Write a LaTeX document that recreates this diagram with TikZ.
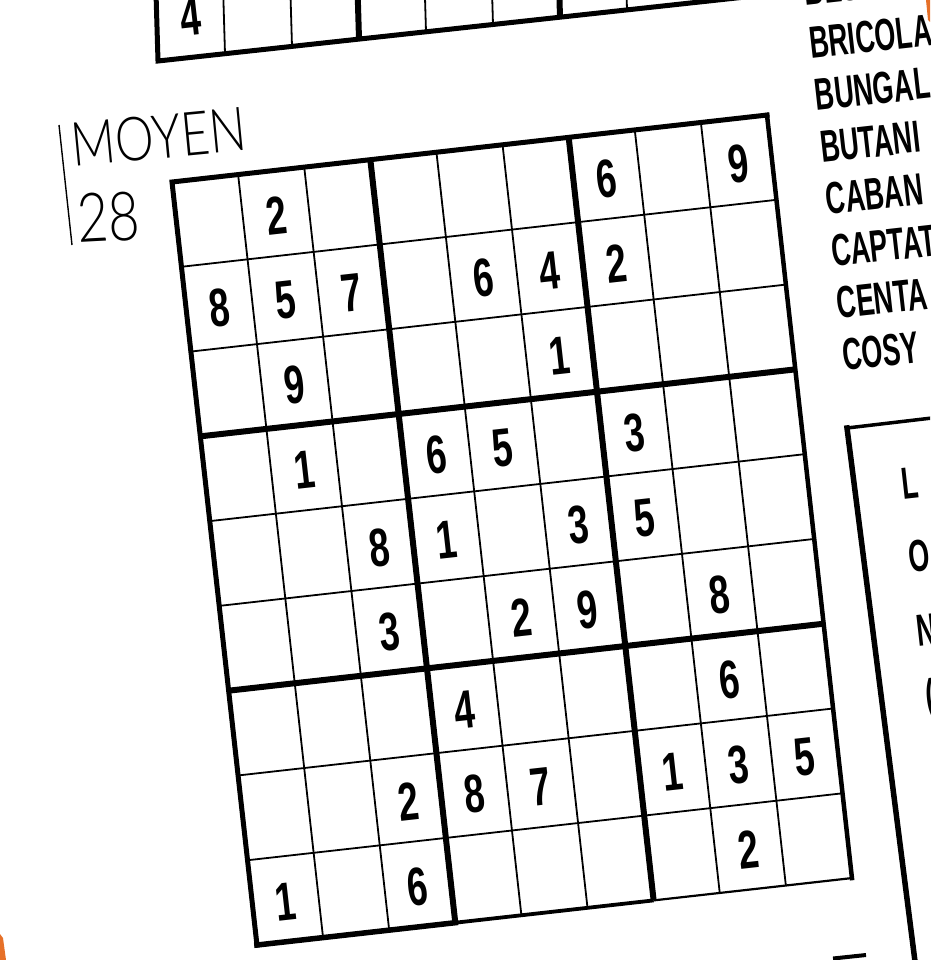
\documentclass[tikz,border=0pt]{standalone}
\usepackage{fontspec}
\usepackage{graphicx}
\setmainfont{Liberation Sans}
\newfontfamily\condfont{Liberation Sans}
\IfFontExistsTF{Lato Light}{\newfontfamily\thinfont{Lato Light}}{%
 \IfFontExistsTF{Lato Thin}{\newfontfamily\thinfont{Lato Thin}}{%
  \IfFontExistsTF{Lato Hairline}{\newfontfamily\thinfont{Lato Hairline}}{\newfontfamily\thinfont{DejaVu Sans}}}}
\newcommand{\dgt}[1]{\scalebox{0.68}[1]{#1}}
\newcommand{\wrd}[1]{\scalebox{0.6}[1]{#1}}
\newcommand{\thn}[1]{\scalebox{0.8}[1]{#1}}
\definecolor{paperorange}{RGB}{230,112,40}
\tikzset{
  thinline/.style={line width=1.8pt},
  blockline/.style={line width=6pt},
  border/.style={line width=5pt, line cap=rect},
  digit/.style={rotate=6.4, inner sep=0pt, font=\condfont\bfseries\fontsize{54}{54}\selectfont},
  word/.style={anchor=base west, rotate=6.4, inner sep=0pt, font=\condfont\bfseries\fontsize{45}{45}\selectfont},
  thintext/.style={anchor=base west, inner sep=0pt},
}
\begin{document}
\begin{tikzpicture}[x=1pt,y=-1pt]
\useasboundingbox (0,0) rectangle (930,960);
\clip (0,0) rectangle (930,960);
\fill[white] (0,0) rectangle (930,960);

% previous (partial) grid at the top
\begin{scope}[shift={(158,61)}, x={(67pt,7.3pt)}, y={(2.5pt,-85pt)}]
  \foreach \u in {1,2,4,5,7,8} \draw[thinline] (\u,-1.2) -- (\u,0);
  \foreach \u in {3,6} \draw[blockline] (\u,-1.2) -- (\u,0);
  \draw[border] (0,-1.2) -- (0,0) -- (9,0) -- (9,-1.2);
  \node[digit] (t4) at (0.5,-0.47) {\dgt{4}};
\end{scope}

% main grid
\begin{scope}[shift={(172,182)}, x={(66.11pt,7.44pt)}, y={(9.44pt,-84.78pt)}]
  \foreach \u in {1,2,4,5,7,8} {
    \draw[thinline] (\u,0) -- (\u,9);
    \draw[thinline] (0,\u) -- (9,\u);
  }
  \foreach \u in {3,6} {
    \draw[blockline] (\u,0) -- (\u,9);
    \draw[blockline] (0,\u) -- (9,\u);
  }
  \draw[border] (0,9) -- (0,0) -- (9,0);
  \draw[border, line width=4.5pt] (9,0) -- (9,9);
  \draw[border, line width=5.5pt] (0,9) -- (3,9);
  \draw[line width=3.8pt] (3,9) -- (6,9);
  \draw[line width=2.2pt] (6,9) -- (9,9);
  \foreach \r/\c/\d in {1/2/2,1/7/6,1/9/9,
      2/1/8,2/2/5,2/3/7,2/5/6,2/6/4,2/7/2,
      3/2/9,3/6/1,
      4/2/1,4/4/6,4/5/5,4/7/3,
      5/3/8,5/4/1,5/6/3,5/7/5,
      6/3/3,6/5/2,6/6/9,6/8/8,
      7/4/4,7/8/6,
      8/3/2,8/4/8,8/5/7,8/7/1,8/8/3,8/9/5,
      9/1/1,9/3/6,9/8/2}
    \node[digit] (d\r\c) at (\c-0.5,\r-0.47) {\dgt{\d}};
\end{scope}

% level label
\draw[line width=1.4pt] (59,125) -- (72,245);
\node[thintext, rotate=5.5, font=\thinfont\fontsize{61}{61}\selectfont] (moyen) at (73,167) {\thn{MOYEN}};
\node[thintext, rotate=3, font=\thinfont\fontsize{68}{68}\selectfont] (num) at (78,243) {\thn{28}};

% word list
\node[word] (w0) at (805.5,6) {\wrd{BEST}};
\node[word] (w1) at (811,59) {\wrd{BRICOLA}};
\node[word] (w2) at (816.5,111) {\wrd{BUNGAL}};
\node[word] (w3) at (822,163) {\wrd{BUTANI}};
\node[word] (w4) at (827.5,215) {\wrd{CABAN}};
\node[word] (w5) at (833,267) {\wrd{CAPTAT}};
\node[word] (w6) at (838.5,319) {\wrd{CENTA}};
\node[word] (w7) at (844,371) {\wrd{COSY}};

% right box
\draw[line width=3.5pt] (932,418) -- (847,428);
\draw[line width=5.5pt, line cap=rect] (847,428) -- (918,985);
\node[word] (b1) at (903,500) {\wrd{L}};
\node[word] (b2) at (910,573) {\wrd{O}};
\node[word] (b3) at (918,647) {\wrd{N}};
\node[word] (b4) at (927,712) {\wrd{(}};

% bottom mark
\draw[line width=4pt] (833,958.5) -- (866,955);

% orange paper edges
\fill[paperorange] (0,934) -- (3,938) -- (6,960) -- (0,960) -- cycle;
\fill[paperorange] (926,0) -- (930,0) -- (930,22) -- (928,20) -- cycle;
\end{tikzpicture}
\end{document}
